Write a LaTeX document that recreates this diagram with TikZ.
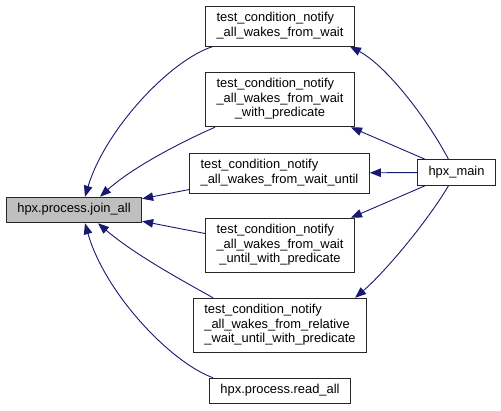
\documentclass[tikz,border=0pt]{standalone}
\usepackage{fontspec}
\setmainfont{Liberation Sans}
\usetikzlibrary{arrows.meta}
\definecolor{edgeblue}{HTML}{191970}
\definecolor{greybox}{HTML}{BFBFBF}
\newcommand{\lbl}[1]{\begin{tabular}{@{}l@{}}#1\end{tabular}}
\newcommand{\ctr}[1]{\multicolumn{1}{@{}c@{}}{#1}}
\begin{document}
\begin{tikzpicture}[x=1pt, y=-1pt, >={Triangle[length=11pt,width=8.5pt]},
  fn/.style={draw=black!85, line width=1pt, fill=white, inner xsep=11pt, inner ysep=5.5pt,
    font=\fontsize{12.9}{14.5}\selectfont},
  call/.style={->, draw=edgeblue, line width=0.9pt}]
\useasboundingbox (0,0) rectangle (501,410);
\node[fn, fill=greybox](J) at (74,210){\lbl{hpx.process.join\_all}};
\node[fn](W) at (280,26){\lbl{test\_condition\_notify\\\_all\_wakes\_from\_wait}};
\node[fn](WP) at (280,99.5){\lbl{test\_condition\_notify\\\_all\_wakes\_from\_wait\\\ctr{\_with\_predicate}}};
\node[fn](WU) at (279.5,173){\lbl{test\_condition\_notify\\\_all\_wakes\_from\_wait\_until}};
\node[fn](WUP) at (280,245.5){\lbl{test\_condition\_notify\\\_all\_wakes\_from\_wait\\\ctr{\_until\_with\_predicate}}};
\node[fn](RW) at (280,325.5){\lbl{test\_condition\_notify\\\_all\_wakes\_from\_relative\\\_wait\_until\_with\_predicate}};
\node[fn](R) at (280,391){\lbl{hpx.process.read\_all}};
\node[fn](M) at (456.5,172.5){\lbl{hpx\_main}};
\draw[call]([xshift=-67pt]W.south) .. controls (170,60) and (105,130) .. ([xshift=11pt]J.north);
\draw[call]([xshift=-65pt]WP.south) .. controls (190,138) and (135,165) .. ([xshift=26pt]J.north);
\draw[call]([yshift=4pt]WU.south west) -- ([yshift=-2pt]J.north east);
\draw[call]([yshift=12pt]WUP.west) -- ([yshift=2pt]J.south east);
\draw[call]([xshift=-67pt]RW.north) .. controls (185,282) and (135,255) .. ([xshift=24pt]J.south);
\draw[call]([xshift=-67pt]R.north) .. controls (170,362) and (105,293) .. ([xshift=11pt]J.south);
\draw[call]([xshift=-8pt]M.north) .. controls (425,115) and (385,65) .. ([xshift=-5pt]W.south east);
\draw[call]([xshift=8pt]M.north west) -- ([xshift=-4pt]WP.south east);
\draw[call](M) -- (WU);
\draw[call]([xshift=8pt]M.south west) -- ([xshift=-4pt]WUP.north east);
\draw[call]([xshift=-8pt]M.south) .. controls (427,222) and (385,272) .. ([xshift=-12pt]RW.north east);
\end{tikzpicture}
\end{document}
